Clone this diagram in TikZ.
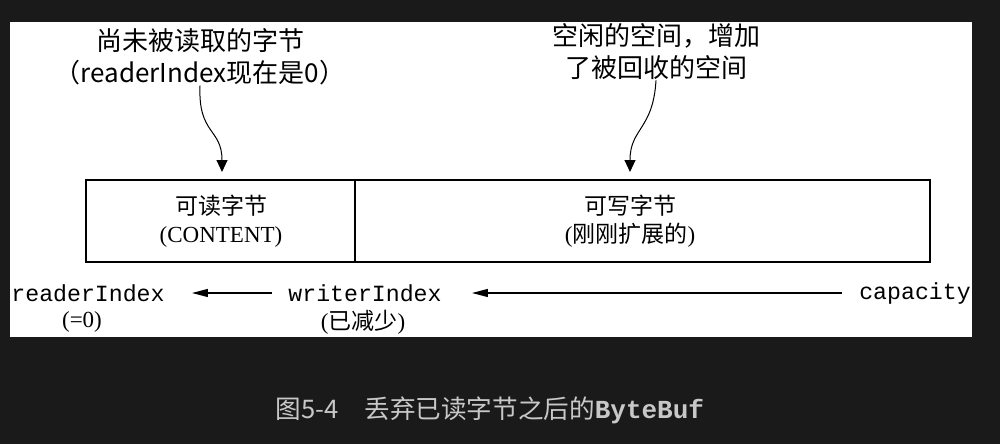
\documentclass[tikz,border=0pt]{standalone}
\usepackage{fontspec}
\setmainfont{Liberation Serif}
\setmonofont{Liberation Mono}
\newfontfamily\cjksans{Noto Sans CJK SC}
\definecolor{PageDark}{HTML}{1A1A1A}
\definecolor{CaptionGray}{HTML}{C8C8C8}
\usetikzlibrary{arrows.meta}
\tikzset{
    note/.style={font=\cjksans\fontsize{13}{16}\selectfont, align=center, inner sep=0pt},
    celltext/.style={font=\cjksans\fontsize{11.5}{14}\selectfont, align=center, inner sep=0pt},
    idx/.style={font=\ttfamily\fontsize{11.6}{14}\selectfont, inner sep=0pt},
    idxnote/.style={font=\cjksans\fontsize{11.5}{14}\selectfont, inner sep=0pt},
    curved pointer/.style={-{Triangle[length=6pt,width=5.5pt]}, line width=0.5pt},
    straight pointer/.style={-{Triangle[length=8pt,width=4pt]}, line width=0.6pt},
    caption/.style={font=\cjksans\fontsize{12.8}{15}\selectfont, text=CaptionGray, inner sep=0pt}
}

\begin{document}
\begin{tikzpicture}[x=0.5pt, y=-0.5pt]

% Fondo y panel
\fill[PageDark] (0,0) rectangle (1000,444);
\useasboundingbox (0,0) rectangle (1000,444);
\fill[white] (10,22) rectangle (972,337);

\coordinate (TipRead) at (222,172);
\coordinate (TipWrite) at (630,172);

% Notas de arriba
\node[note] (unread) at (200,57) {尚未被读取的字节\\（readerIndex现在是0）};
\node[note] (freed) at (656,52) {空闲的空间，增加\\了被回收的空间};

\draw[curved pointer] (unread.south) .. controls (198,135) and (222,128) .. (TipRead);
\draw[curved pointer] (freed.south) .. controls (653,130) and (630,128) .. (TipWrite);

% El buffer
\draw[line width=0.8pt] (86,180) rectangle (930,262);
\draw[line width=0.8pt] (355,180) -- (355,262);

\node[celltext] (readable) at (221,221) {可读字节\\{\rmfamily (CONTENT)}};
\node[celltext] (writable) at (630,221) {可写字节\\{\rmfamily(}刚刚扩展的{\rmfamily)}};

% Indices
\node[idx] (reader) at (88,293) {readerIndex};
\node[idx] (writer) at (365,293) {writerIndex};
\node[idx] (capacity) at (915,293) {capacity};

\node[idxnote] (readerzero) at (82,322) {\rmfamily (=0)};
\node[idxnote] (writerless) at (363,322) {{\rmfamily(}已减少{\rmfamily)}};

\draw[straight pointer, shorten <=8pt, shorten >=13.5pt] (writer.west) -- (reader.east);
\draw[straight pointer, shorten <=8.5pt, shorten >=15pt] (capacity.west) -- (writer.east);

% Pie de figura
\node[caption] (figcap) at (490,410) {图5-4\quad 丢弃已读字节之后的{\ttfamily\bfseries\fontsize{13}{15}\selectfont ByteBuf}};

\end{tikzpicture}
\end{document}
